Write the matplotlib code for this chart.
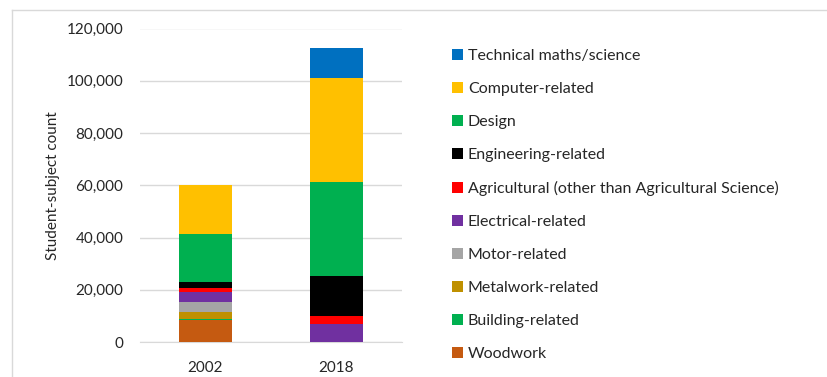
import numpy as np
import matplotlib.pyplot as plt
from matplotlib.lines import Line2D
from matplotlib.ticker import FuncFormatter

plt.rcParams['font.family'] = ['Lato', 'DejaVu Sans']

years = ['2002', '2018']

# subjects stacked bottom -> top
subjects = ['Woodwork', 'Building-related', 'Metalwork-related', 'Motor-related',
            'Electrical-related', 'Agricultural (other than Agricultural Science)',
            'Engineering-related', 'Design', 'Computer-related', 'Technical maths/science']
colors = ['#C55A11', '#00B050', '#BF9000', '#A5A5A5', '#7030A0',
          '#FF0000', '#000000', '#00B050', '#FFC000', '#0070C0']

woodwork = [8500, 0]
building = [300, 0]
metalwork = [2500, 0]
motor = [3900, 0]
electrical = [4100, 7000]
agricultural = [1500, 2950]
engineering = [2300, 15200]
design = [18200, 36000]
computer = [18900, 39900]
technical = [0, 11500]

series = [woodwork, building, metalwork, motor, electrical,
          agricultural, engineering, design, computer, technical]

fig = plt.figure(figsize=(8.28, 3.77), dpi=100)
ax = fig.add_axes([140 / 828, 1 - 342 / 377, 262 / 828, (342 - 28.5) / 377])

x = np.arange(len(years))
bottom = np.zeros(len(years))
handles = []
for name, vals, col in zip(subjects, series, colors):
    vals = np.array(vals, dtype=float)
    bars = ax.bar(x, vals, width=0.4, bottom=bottom, color=col, label=name, zorder=3)
    handles.append(bars)
    bottom += vals

ax.set_xlim(-0.5, 1.5)
ax.set_ylim(0, 120000)
ax.set_yticks(np.arange(0, 120001, 20000))
ax.yaxis.set_major_formatter(FuncFormatter(lambda v, p: f'{int(v):,}'))
ax.set_xticks(x)
ax.set_xticklabels(years)
ax.grid(axis='y', color='#D9D9D9', linewidth=1, zorder=0)
for s in ['top', 'right', 'left']:
    ax.spines[s].set_visible(False)
ax.spines['bottom'].set_color('#D9D9D9')
ax.tick_params(axis='both', length=0, labelsize=11, colors='#262626')
ax.tick_params(axis='x', pad=14)
ax.tick_params(axis='y', pad=12)
ax.set_ylabel('Student-subject count', fontsize=11, color='#262626', labelpad=4.5)

# legend, top entry first
leg = fig.legend(handles[::-1], subjects[::-1], loc='upper left',
                 bbox_to_anchor=(452 / 828, 1 - 49 / 377), frameon=False,
                 borderpad=0, borderaxespad=0,
                 fontsize=11.5, handlelength=0.7, handleheight=0.7,
                 handletextpad=0.3, labelspacing=1.18, labelcolor='#262626')

# light chart-area border
fig.add_artist(Line2D([12 / 828, 1], [1 - 10 / 377] * 2, color='#D9D9D9', lw=1))
fig.add_artist(Line2D([12 / 828] * 2, [0, 1 - 10 / 377], color='#D9D9D9', lw=1))

fig.savefig('out.png', dpi=100)
